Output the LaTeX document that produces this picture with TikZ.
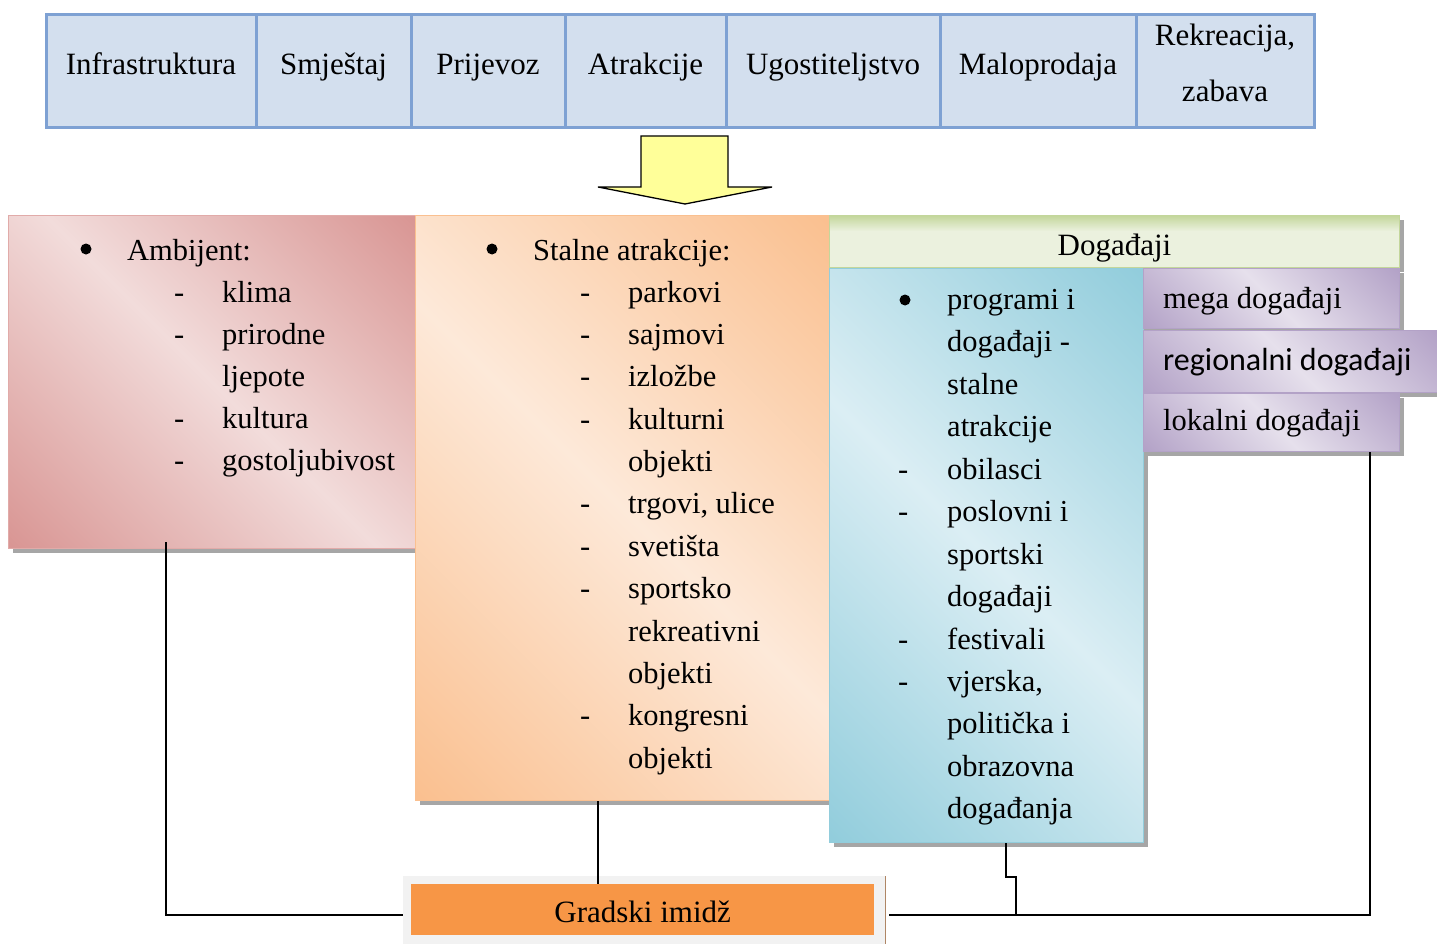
\documentclass[tikz,border=0pt]{standalone}
\usepackage{fontspec}
\setmainfont{Liberation Serif}
\newfontfamily\calib{Carlito}
\usetikzlibrary{shadows}
\definecolor{pinkL}{HTML}{F2DCDB}\definecolor{pinkD}{HTML}{D99694}
\definecolor{orL}{HTML}{FDE9D9}\definecolor{orD}{HTML}{FAC090}
\definecolor{blL}{HTML}{DBEEF4}\definecolor{blD}{HTML}{92CDDC}
\definecolor{puL}{HTML}{E6E0EC}\definecolor{puD}{HTML}{B3A2C7}
\definecolor{grL}{HTML}{EBF1DE}\definecolor{grD}{HTML}{C3D69B}
\definecolor{barF}{HTML}{D3DFEE}\definecolor{barB}{HTML}{7EA1D3}
\definecolor{giF}{HTML}{F79646}\definecolor{giO}{HTML}{F2F2F2}
\definecolor{arrF}{HTML}{FFFF99}
\pgfdeclarehorizontalshading{pinkdiag}{100bp}{color(0bp)=(pinkD); color(15bp)=(pinkD); color(50bp)=(pinkL); color(85bp)=(pinkD); color(100bp)=(pinkD)}
\pgfdeclarehorizontalshading{ordiag}{100bp}{color(0bp)=(orD); color(15bp)=(orD); color(50bp)=(orL); color(85bp)=(orD); color(100bp)=(orD)}
\pgfdeclarehorizontalshading{bldiag}{100bp}{color(0bp)=(blD); color(15bp)=(blD); color(50bp)=(blL); color(85bp)=(blD); color(100bp)=(blD)}
\pgfdeclarehorizontalshading{pudiag}{100bp}{color(0bp)=(puD); color(15bp)=(puD); color(50bp)=(puL); color(85bp)=(puD); color(100bp)=(puD)}
\pgfdeclareverticalshading{grvert}{100bp}{color(0bp)=(grL); color(25bp)=(grL); color(60bp)=(grL); color(75bp)=(grD); color(100bp)=(grD)}
\begin{document}
\begin{tikzpicture}[x=1pt,y=-1pt,
  txt/.style={inner sep=0pt, font=\fontsize{30.5}{38}\selectfont, anchor=base west},
  ctxt/.style={inner sep=0pt, font=\fontsize{31}{38}\selectfont, anchor=base},
  bul/.style={circle, fill=black, inner sep=0pt, minimum size=11pt},
  cell/.style={draw=barB, fill=barF, line width=3pt, minimum height=113pt, inner sep=0pt},
  box/.style={anchor=north west, inner sep=0pt, line width=1pt,
     drop shadow={shadow xshift=4pt, shadow yshift=-4pt, fill=black, opacity=0.35}},
  conn/.style={draw=black, line width=1.3pt}]
\useasboundingbox (0,0) rectangle (1437,944);
\fill[white] (0,0) rectangle (1437,944);
% top bar
\foreach \l/\r/\n in {46/256/c1,256/411/c2,411/565/c3,565/726/c4,726/940/c5,940/1136/c6,1136/1314/c7}
  \node[cell, minimum width=(\r-\l)*1pt] (\n) at ({(\l+\r)/2},71.5) {};
\node[ctxt] (t1) at (c1.center |- 0,75) {Infrastruktura};
\node[ctxt] (t2) at (c2.center |- 0,75) {Smještaj};
\node[ctxt] (t3) at (c3.center |- 0,75) {Prijevoz};
\node[ctxt] (t4) at (c4.center |- 0,75) {Atrakcije};
\node[ctxt] (t5) at (c5.center |- 0,75) {Ugostiteljstvo};
\node[ctxt] (t6) at (c6.center |- 0,75) {Maloprodaja};
\node[ctxt] (t7a) at (c7.center |- 0,46) {Rekreacija,};
\node[ctxt] (t7b) at (c7.center |- 0,102) {zabava};
% arrow
\draw[fill=arrF, line width=1.3pt, line join=miter]
  (641,136) -- (728,136) -- (728,187) -- (772,187) -- (685,204) -- (598,187) -- (641,187) -- cycle;
% boxes
\node[box, shading=pinkdiag, shading angle=45, draw=pinkD!80, minimum width=407pt, minimum height=333pt] (amb) at (8,215) {};
\node[box, shading=ordiag, shading angle=45, draw=orD, minimum width=414pt, minimum height=585pt] (sta) at (415,215) {};
\node[box, shading=grvert, draw=grD, minimum width=570pt, minimum height=52pt] (dog) at (829,215) {};
\node[box, shading=bldiag, shading angle=45, draw=blD, minimum width=314pt, minimum height=574pt] (blu) at (829,268) {};
\node[box, shading=pudiag, shading angle=45, draw=puD, minimum width=256pt, minimum height=60pt] (mega) at (1143,268) {};
\node[box, shading=pudiag, shading angle=45, draw=puD, minimum width=294pt, minimum height=62pt] (reg) at (1143,330) {};
\node[box, shading=pudiag, shading angle=45, draw=puD, minimum width=256pt, minimum height=58pt] (lok) at (1143,393) {};
% Gradski imidz
\node[anchor=north west, inner sep=0pt, fill=giO, minimum width=482pt, minimum height=68pt] (gio) at (403,876) {};
\draw[draw=orD!70!black, line width=1pt] (gio.north east) -- (gio.south east);
\node[anchor=north west, inner sep=0pt, fill=giF, minimum width=463pt, minimum height=51pt] (gi) at (411,884) {};
\node[ctxt] (git) at (gi.center |- 0,922) {Gradski imidž};
% Ambijent text
\node[bul] (ab) at (86,249) {};
\node[txt] (at) at (127,260) {Ambijent:};
\foreach \y/\t/\d in {302/klima/1, 344/prirodne/1, 386/ljepote/0, 428/kultura/1, 470/gostoljubivost/1}{
  \node[txt] (a\y) at (222,\y) {\t};
  \ifnum\d=1 \node[txt] (ad\y) at (174,\y) {-};\fi
}
% Stalne atrakcije text
\node[bul] (sb) at (492,249) {};
\node[txt] (st) at (533,260) {Stalne atrakcije:};
\foreach \y/\t/\d in {302/parkovi/1, 344/sajmovi/1, 386/izložbe/1, 429/kulturni/1, 471/objekti/0, 513/{trgovi, ulice}/1, 556/svetišta/1, 598/sportsko/1, 641/rekreativni/0, 683/objekti/0, 725/kongresni/1, 768/objekti/0}{
  \node[txt] (s\y) at (628,\y) {\t};
  \ifnum\d=1 \node[txt] (sd\y) at (580,\y) {-};\fi
}
% Dogadaji
\node[ctxt] (dogt) at (dog.center |- 0,255) {Događaji};
\node[bul] (bb) at (905,300) {};
\foreach \y/\t/\d in {309/{programi i}/0, 351/{događaji -}/0, 394/stalne/0, 436/atrakcije/0, 479/obilasci/1, 521/{poslovni i}/1, 564/sportski/0, 606/događaji/0, 649/festivali/1, 691/{vjerska,}/1, 733/{politička i}/0, 776/obrazovna/0, 818/događanja/0}{
  \node[txt] (b\y) at (947,\y) {\t};
  \ifnum\d=1 \node[txt] (bd\y) at (898,\y) {-};\fi
}
\node[txt] (megat) at (1163,308) {mega događaji};
\node[txt, font=\calib\fontsize{32}{38}\selectfont] (regt) at (1163,370) {regionalni događaji};
\node[txt] (lokt) at (1163,430) {lokalni događaji};
% connectors
\draw[conn] (amb.south -| 166,0) ++(0,-7) |- (gio.west |- 0,915);
\draw[conn] (sta.south -| 598,0) -- (gi.north -| 598,0);
\draw[conn] (blu.south -| 1006,0) |- (1016,877) -- (1016,915);
\draw[conn] (889,915) -| (lok.south -| 1370,0);
\end{tikzpicture}
\end{document}
